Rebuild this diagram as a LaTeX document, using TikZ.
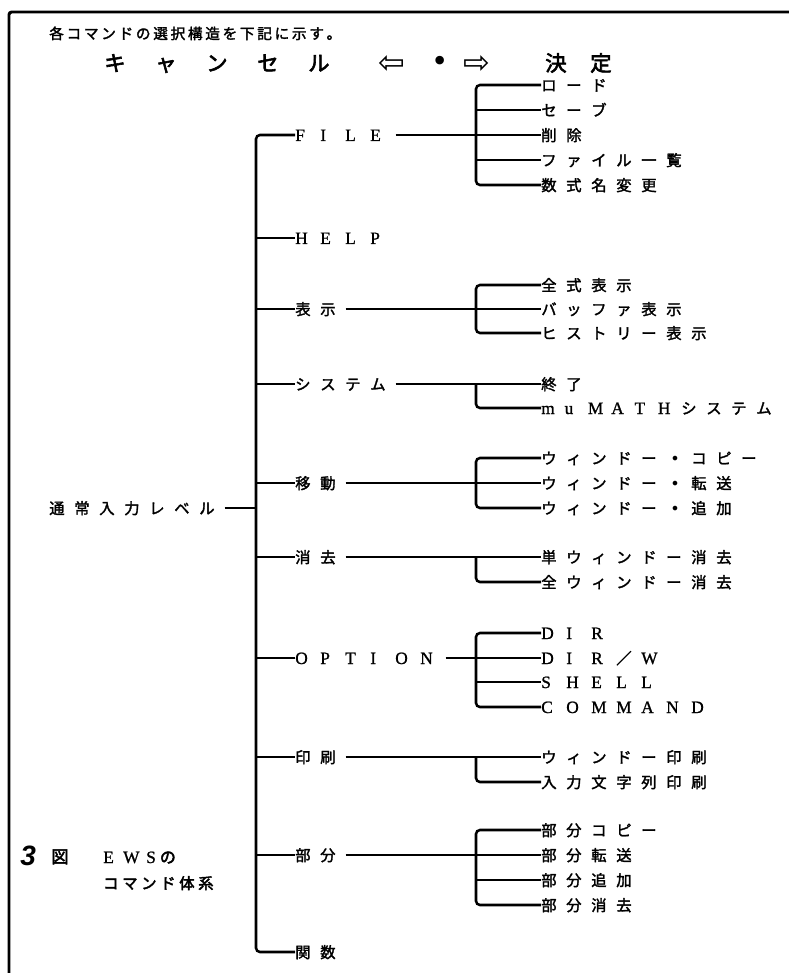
\documentclass[tikz,border=0pt]{standalone}
\usepackage{fontspec}
\usepackage{graphicx}
\newfontfamily\jpf{Noto Sans CJK JP}
\newfontfamily\jpmf[FakeBold=2]{Noto Sans CJK JP}
\newfontfamily\jpbf[FakeBold=2.8]{Noto Sans CJK JP}
\newfontfamily\latf[FakeBold=1]{Liberation Serif}
\newfontfamily\symf{DejaVu Sans}
\newfontfamily\figf{Liberation Sans}
\makeatletter
\def\gr#1#2{\def\gr@p{#1}\gr@loop#2\relax}
\def\gr@loop#1{\ifx\relax#1\else\makebox[\gr@p][l]{#1}\expandafter\gr@loop\fi}
\makeatother
\newcommand\J[1]{{\fontsize{11.5}{13}\selectfont\jpmf\gr{18.75pt}{#1}}}
\newcommand\LT[1]{{\fontsize{13}{14}\selectfont\latf\gr{18.75pt}{#1}}}
\newcommand\LM[1]{{\fontsize{13}{14}\selectfont\latf\gr{17.5pt}{#1}}}
\newcommand\BD{\makebox[18.75pt][l]{\hspace{3pt}{\fontsize{12}{13}\selectfont\symf •}}}
\begin{document}
\begin{tikzpicture}[x=0.75pt,y=-0.75pt,
  tree/.style={line width=1.9pt},
  ml/.style={inner sep=0pt, anchor=west, text height=10pt, text depth=1pt},
  tx/.style={inner sep=0pt, anchor=base west}]
\useasboundingbox (0,0) rectangle (788,973);
% frame
\draw[line width=2.2pt, rounded corners=2pt] (9,990) -- (9,12) -- (800,12);
% header
\node[tx] (hd1) at (49,39) {\fontsize{11}{12}\selectfont\jpmf\gr{13pt}{各コマンドの選択構造を下記に示す。}};
\node[tx] (hd2a) at (104,71) {\fontsize{16}{18}\selectfont\jpbf\gr{38.25pt}{キャンセル}};
\node[tx] (hd2b) at (378,74) {\fontsize{24}{24}\selectfont\symf ⇦};
\node[tx, anchor=base] (hd2c) at (440,72) {\fontsize{22}{22}\selectfont\symf •};
\node[tx] (hd2d) at (463,74) {\fontsize{24}{24}\selectfont\symf ⇨};
\node[tx] (hd2e) at (545,71) {\fontsize{16}{18}\selectfont\jpbf\gr{33.75pt}{決定}};
% coordinates of the vertical lines
\coordinate (mv) at (256,0);
\coordinate (bx) at (476,0);
% root
\node[ml] (root) at (49,508) {\J{通常入力レベル}};
% main items
\node[ml] (file) at (295,135) {\LT{FILE}};
\node[ml] (help) at (295,238) {\LT{HELP}};
\node[ml] (hyoji) at (295,309) {\J{表示}};
\node[ml] (sys) at (295,384) {\J{システム}};
\node[ml] (ido) at (295,483) {\J{移動}};
\node[ml] (shokyo) at (295,557) {\J{消去}};
\node[ml] (opt) at (295,658) {\LT{OPTION}};
\node[ml] (insatsu) at (295,757) {\J{印刷}};
\node[ml] (bubun) at (295,855) {\J{部分}};
\node[ml] (kansu) at (295,952) {\J{関数}};
% children
\node[ml] (f1) at (541,85) {\J{ロード}};
\node[ml] (f2) at (541,110) {\J{セーブ}};
\node[ml] (f3) at (541,135) {\J{削除}};
\node[ml] (f4) at (541,160) {\J{ファイル一覧}};
\node[ml] (f5) at (541,185) {\J{数式名変更}};
\node[ml] (h1) at (541,285) {\J{全式表示}};
\node[ml] (h2) at (541,309) {\J{バッファ表示}};
\node[ml] (h3) at (541,333) {\J{ヒストリー表示}};
\node[ml] (s1) at (541,384) {\J{終了}};
\node[ml] (s2) at (541,408) {\LM{muMATH}\J{システム}};
\node[ml] (m1) at (541,458) {\J{ウィンドー}\BD\J{コピー}};
\node[ml] (m2) at (541,483) {\J{ウィンドー}\BD\J{転送}};
\node[ml] (m3) at (541,508) {\J{ウィンドー}\BD\J{追加}};
\node[ml] (e1) at (541,557) {\J{単ウィンドー消去}};
\node[ml] (e2) at (541,582) {\J{全ウィンドー消去}};
\node[ml] (o1) at (541,633) {\LT{DIR}};
\node[ml] (o2) at (541,658) {\LT{DIR}\J{／}\LT{W}};
\node[ml] (o3) at (541,682) {\LT{SHELL}};
\node[ml] (o4) at (541,707) {\LT{COMMAND}};
\node[ml] (p1) at (541,757) {\J{ウィンドー印刷}};
\node[ml] (p2) at (541,782) {\J{入力文字列印刷}};
\node[ml] (b1) at (541,830) {\J{部分コピー}};
\node[ml] (b2) at (541,855) {\J{部分転送}};
\node[ml] (b3) at (541,880) {\J{部分追加}};
\node[ml] (b4) at (541,905) {\J{部分消去}};
% caption
\node[tx] (cap3) at (20,865) {\fontsize{21}{22}\selectfont\figf\bfseries\itshape 3};
\node[tx] (capz) at (51,863) {\fontsize{13}{14}\selectfont\jpbf 図};
\node[tx] (cape) at (103,863) {\fontsize{13}{14}\selectfont\latf E\hspace{7pt}W\hspace{5pt}S\hspace{3pt}{\fontsize{12}{13}\selectfont\jpbf の}};
\node[tx] (capc) at (103,889) {\fontsize{11.5}{13}\selectfont\jpbf\gr{14.25pt}{コマンド体系}};
% main tree
\draw[tree, rounded corners=3pt] (file.west) -| (mv |- kansu.west) -- (kansu.west);
\foreach \n in {help,hyoji,sys,ido,shokyo,opt,insatsu,bubun}
  \draw[tree] (mv |- \n.west) -- (\n.west);
\draw[tree] (root.east) -- (mv |- root.east);
% FILE
\draw[tree] (file.east) -- (f3.west);
\draw[tree, rounded corners=3pt] (f1.west) -- (bx |- f1.west) -- (bx |- f5.west) -- (f5.west);
\foreach \c in {f2,f4} \draw[tree] (bx |- \c.west) -- (\c.west);
% hyoji
\draw[tree] (hyoji.east) -- (h2.west);
\draw[tree, rounded corners=3pt] (h1.west) -- (bx |- h1.west) -- (bx |- h3.west) -- (h3.west);
% system
\draw[tree] (sys.east) -- (s1.west);
\draw[tree, rounded corners=3pt] (bx |- s1.west) -- (bx |- s2.west) -- (s2.west);
% ido
\draw[tree] (ido.east) -- (m2.west);
\draw[tree, rounded corners=3pt] (m1.west) -- (bx |- m1.west) -- (bx |- m3.west) -- (m3.west);
% shokyo
\draw[tree] (shokyo.east) -- (e1.west);
\draw[tree, rounded corners=3pt] (bx |- e1.west) -- (bx |- e2.west) -- (e2.west);
% option
\draw[tree] (opt.east) -- (o2.west);
\draw[tree, rounded corners=3pt] (o1.west) -- (bx |- o1.west) -- (bx |- o4.west) -- (o4.west);
\draw[tree] (bx |- o3.west) -- (o3.west);
% insatsu
\draw[tree] (insatsu.east) -- (p1.west);
\draw[tree, rounded corners=3pt] (bx |- p1.west) -- (bx |- p2.west) -- (p2.west);
% bubun
\draw[tree] (bubun.east) -- (b2.west);
\draw[tree, rounded corners=3pt] (b1.west) -- (bx |- b1.west) -- (bx |- b4.west) -- (b4.west);
\draw[tree] (bx |- b3.west) -- (b3.west);
\end{tikzpicture}
\end{document}
